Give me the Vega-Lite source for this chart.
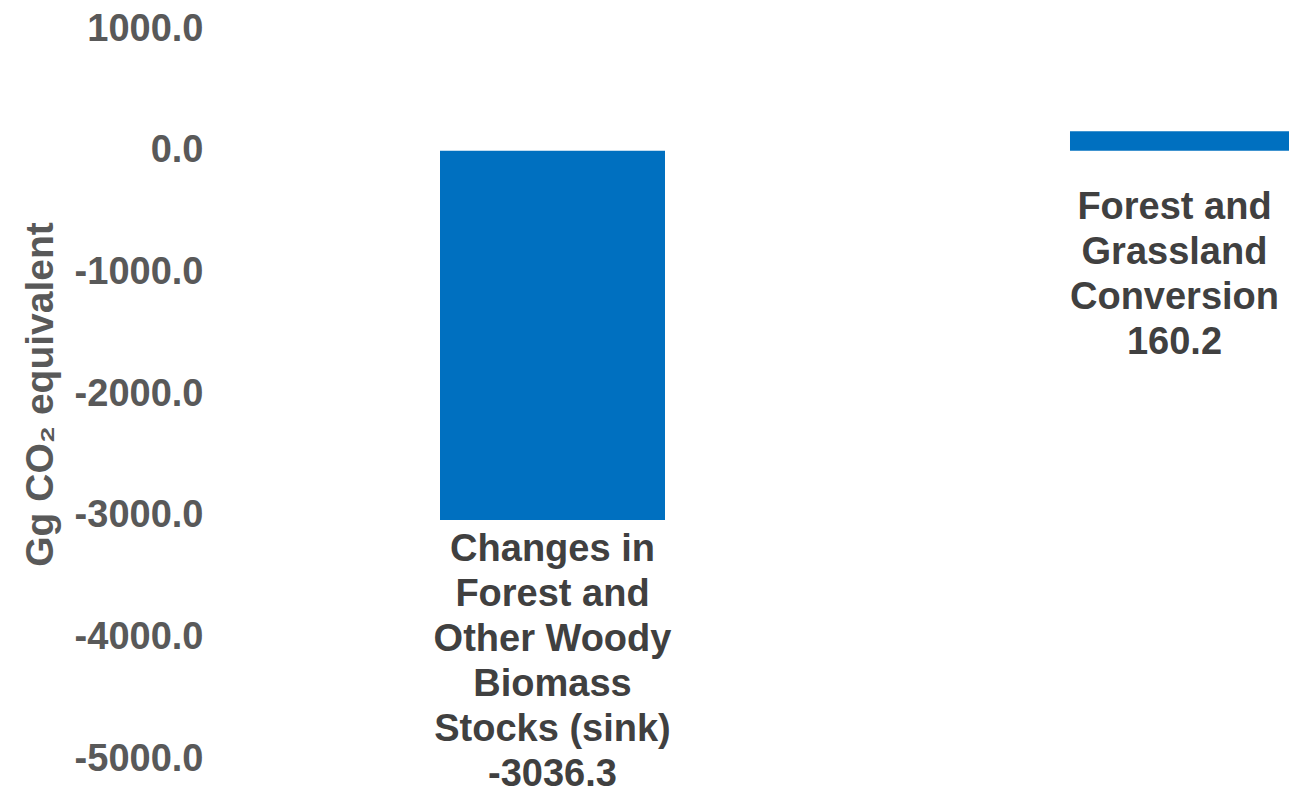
{
  "$schema": "https://vega.github.io/schema/vega-lite/v6.json",
  "autosize": {"type": "none"},
  "padding": {"left": 215, "top": 29, "right": 0, "bottom": 39},
  "width": 1074,
  "height": 730,
  "background": "white",
  "config": {"view": {"stroke": null}, "font": "Liberation Sans"},
  "data": {
    "values": [
      {"category": "Changes in Forest and Other Woody Biomass Stocks (sink)", "value": -3036.3, "label": "Changes in\nForest and\nOther Woody\nBiomass\nStocks (sink)\n-3036.3"},
      {"category": "Forest and Grassland Conversion", "value": 160.2, "label": "Forest and\nGrassland\nConversion\n160.2"}
    ]
  },
  "encoding": {
    "x": {
      "field": "category",
      "type": "nominal",
      "sort": null,
      "scale": {"range": [0, 1305], "paddingInner": 0.642857, "paddingOuter": 0.357143},
      "axis": null
    }
  },
  "layer": [
    {
      "mark": {"type": "bar", "color": "#0070C0", "clip": true},
      "encoding": {
        "y": {
          "field": "value",
          "type": "quantitative",
          "scale": {"domain": [-5000, 1000], "nice": false},
          "axis": {
            "title": "Gg CO₂ equivalent",
            "values": [-5000, -4000, -3000, -2000, -1000, 0, 1000],
            "labelExpr": "replace(format(datum.value, '.1f'), '−', '-')",
            "grid": false,
            "domain": false,
            "ticks": false,
            "labelPadding": 12,
            "labelFontSize": 38,
            "labelFontWeight": "bold",
            "labelColor": "#595959",
            "titleFontSize": 39,
            "titleFontWeight": "bold",
            "titleColor": "#595959",
            "titlePadding": 14
          }
        }
      }
    },
    {
      "transform": [{"filter": "datum.value < 0"}],
      "mark": {"type": "text", "baseline": "top", "align": "center", "lineBreak": "\n", "lineHeight": 45, "fontSize": 38, "fontWeight": "bold", "color": "#404040", "dy": 11},
      "encoding": {
        "y": {"field": "value", "type": "quantitative"},
        "text": {"field": "label"}
      }
    },
    {
      "transform": [{"filter": "datum.value >= 0"}],
      "mark": {"type": "text", "baseline": "top", "align": "center", "lineBreak": "\n", "lineHeight": 45, "fontSize": 38, "fontWeight": "bold", "color": "#404040", "dy": 38, "dx": -8},
      "encoding": {
        "y": {"datum": 0, "type": "quantitative"},
        "text": {"field": "label"}
      }
    }
  ]
}
